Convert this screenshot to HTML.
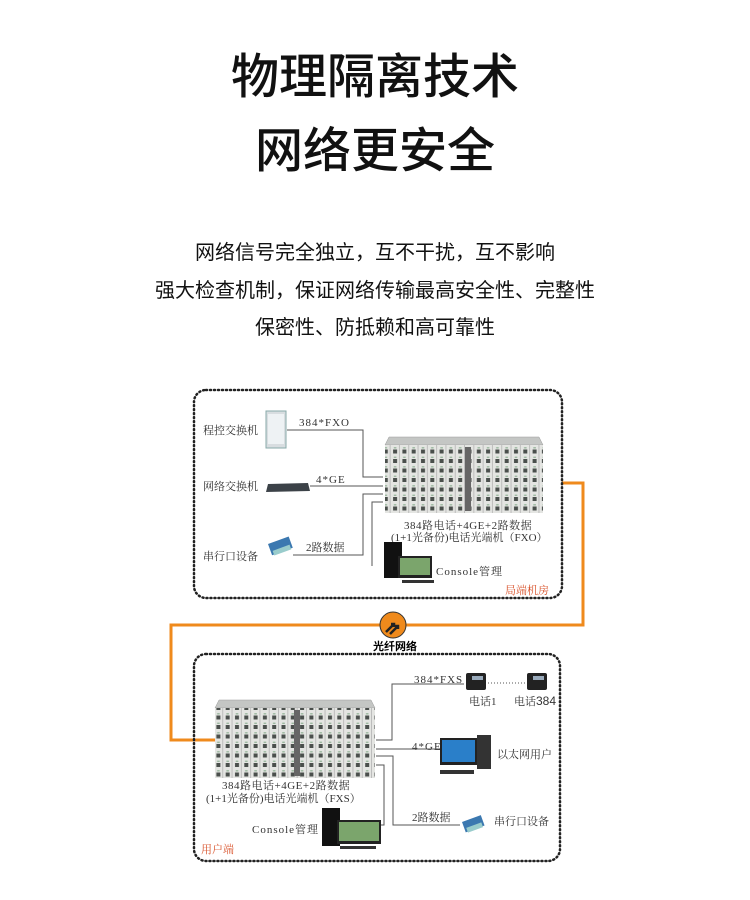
<!DOCTYPE html>
<html><head><meta charset="utf-8">
<style>
html,body{margin:0;padding:0;background:#fff;}
body{width:750px;height:900px;position:relative;overflow:hidden;font-family:"Liberation Sans","Noto Sans CJK SC",sans-serif;}
.t{position:absolute;left:0;width:750px;text-align:center;color:#111;}
</style></head><body>
<div class="t" style="top:50px;font-size:48px;line-height:56px;font-weight:500;">物理隔离技术</div>
<div class="t" style="top:124px;font-size:48px;line-height:56px;font-weight:500;">网络更安全</div>
<div class="t" style="top:240px;font-size:20px;line-height:26px;">网络信号完全独立，互不干扰，互不影响</div>
<div class="t" style="top:278px;font-size:20px;line-height:26px;">强大检查机制，保证网络传输最高安全性、完整性</div>
<div class="t" style="top:315px;font-size:20px;line-height:26px;">保密性、防抵赖和高可靠性</div>

<svg width="750" height="900" style="position:absolute;left:0;top:0" xmlns="http://www.w3.org/2000/svg" font-family="Liberation Serif,Noto Serif CJK SC,serif">
<defs>
<pattern id="ports" x="0" y="0" width="9.3" height="9.5" patternUnits="userSpaceOnUse">
<rect width="9.3" height="9.5" fill="#e4e5e2"/>
<rect x="2.5" y="3" width="4" height="4" fill="#4a4f4c"/>
<rect x="3.2" y="0.6" width="2.6" height="1.4" fill="#9cb8a0"/>
<rect x="8.4" y="0" width="0.9" height="9.5" fill="#b8b8b8"/>
</pattern>
</defs>
<polyline points="562,483 583,483 583,625 171,625 171,740 215,740" fill="none" stroke="#ef8a1c" stroke-width="3"/>
<circle cx="393" cy="625" r="13" fill="#ef8a1c" stroke="#333" stroke-width="1"/>
<path d="M386,632 l8,-8 m-3,0 h3 v3 M390,634 l8,-8 m-3,0 h3 v3" stroke="#222" stroke-width="2.5" fill="none"/>
<text x="395" y="650" font-size="11" font-weight="bold" text-anchor="middle" font-family="Liberation Sans,Noto Sans CJK SC,sans-serif">光纤网络</text>

<rect x="194" y="390" width="368" height="208" rx="12" fill="none" stroke="#222" stroke-width="2.5" stroke-dasharray="1 3" stroke-linecap="round"/>
<rect x="194" y="654" width="366" height="207" rx="12" fill="none" stroke="#222" stroke-width="2.5" stroke-dasharray="1 3" stroke-linecap="round"/>

<g font-size="11" fill="#333">
<text x="203" y="434">程控交换机</text>
<text x="203" y="490">网络交换机</text>
<text x="203" y="560">串行口设备</text>
<text x="299" y="426" letter-spacing="1">384*FXO</text>
<text x="316" y="483" letter-spacing="1">4*GE</text>
<text x="306" y="551">2路数据</text>
<text x="404" y="529" letter-spacing="0.5">384路电话+4GE+2路数据</text>
<text x="391" y="541">(1+1光备份)电话光端机（FXO）</text>
<text x="436" y="575" letter-spacing="1">Console管理</text>
<text x="505" y="594" fill="#d9532b">局端机房</text>
</g>
<g fill="none" stroke="#555" stroke-width="1">
<polyline points="287,430 363,430 363,477 383,477"/>
<polyline points="310,486 383,486"/>
<polyline points="293,555 363,555 363,494 383,494"/>
<polyline points="372,566 372,502 383,502"/>
</g>
<rect x="266" y="411" width="20" height="37" fill="#d8dde0" stroke="#8aa" stroke-width="1"/>
<rect x="268" y="414" width="16" height="30" fill="#eef2f4"/>
<polygon points="268,484 308,483 310,491 266,492" fill="#3c4248"/>
<g transform="translate(268,544) rotate(-20)"><rect width="22" height="12" fill="#3b78b0"/><rect x="2" y="8" width="18" height="5" fill="#9cc"/></g>
<polygon points="389,437 539,437 543,445 385,445" fill="#c4c6c4" stroke="#999" stroke-width="0.5"/>
<rect x="385" y="445" width="158" height="68" fill="url(#ports)"/>
<rect x="465" y="447" width="6" height="64" fill="#666"/>
<rect x="384" y="542" width="18" height="36" fill="#111"/>
<rect x="398" y="556" width="34" height="22" fill="#222"/>
<rect x="400" y="558" width="30" height="17" fill="#7ba56c"/>
<rect x="402" y="580" width="32" height="3" fill="#333"/>

<g font-size="11" fill="#333">
<text x="414" y="683" letter-spacing="1">384*FXS</text>
<text x="469" y="705">电话1</text>
<text x="514" y="705">电话</text><text x="536" y="705" font-family="Liberation Sans,sans-serif" font-size="12">384</text>
<text x="412" y="750" letter-spacing="1">4*GE</text>
<text x="497" y="758">以太网用户</text>
<text x="412" y="821">2路数据</text>
<text x="494" y="825">串行口设备</text>
<text x="222" y="789" letter-spacing="0.5">384路电话+4GE+2路数据</text>
<text x="206" y="802">(1+1光备份)电话光端机（FXS）</text>
<text x="252" y="833" letter-spacing="1">Console管理</text>
<text x="201" y="853" fill="#d9532b">用户端</text>
</g>
<g fill="none" stroke="#555" stroke-width="1">
<polyline points="376,740 392,740 392,684 464,684"/>
<polyline points="376,749 440,749"/>
<polyline points="376,756 393,756 393,825 460,825"/>
<polyline points="376,765 384,765 384,825 372,825"/>
<line x1="488" y1="683" x2="525" y2="683" stroke-dasharray="1 2"/>
</g>
<g fill="#222"><rect x="466" y="673" width="20" height="17" rx="2"/><rect x="527" y="673" width="20" height="17" rx="2"/></g>
<rect x="472" y="676" width="11" height="4" fill="#9ab"/><rect x="533" y="676" width="11" height="4" fill="#9ab"/>
<rect x="440" y="738" width="37" height="27" fill="#222"/>
<rect x="442" y="740" width="33" height="22" fill="#2a7fc9"/>
<rect x="477" y="735" width="14" height="34" fill="#333"/>
<rect x="440" y="770" width="34" height="4" fill="#333"/>
<g transform="translate(462,822) rotate(-20)"><rect width="20" height="11" fill="#3b78b0"/><rect x="2" y="7" width="16" height="5" fill="#9cc"/></g>
<polygon points="219,700 371,700 375,708 215,708" fill="#c4c6c4" stroke="#999" stroke-width="0.5"/>
<rect x="215" y="708" width="160" height="70" fill="url(#ports)"/>
<rect x="294" y="710" width="6" height="66" fill="#666"/>
<rect x="322" y="808" width="18" height="38" fill="#111"/>
<rect x="337" y="820" width="44" height="24" fill="#222"/>
<rect x="339" y="822" width="40" height="19" fill="#7ba56c"/>
<rect x="340" y="846" width="36" height="3" fill="#333"/>
</svg>
</body></html>
